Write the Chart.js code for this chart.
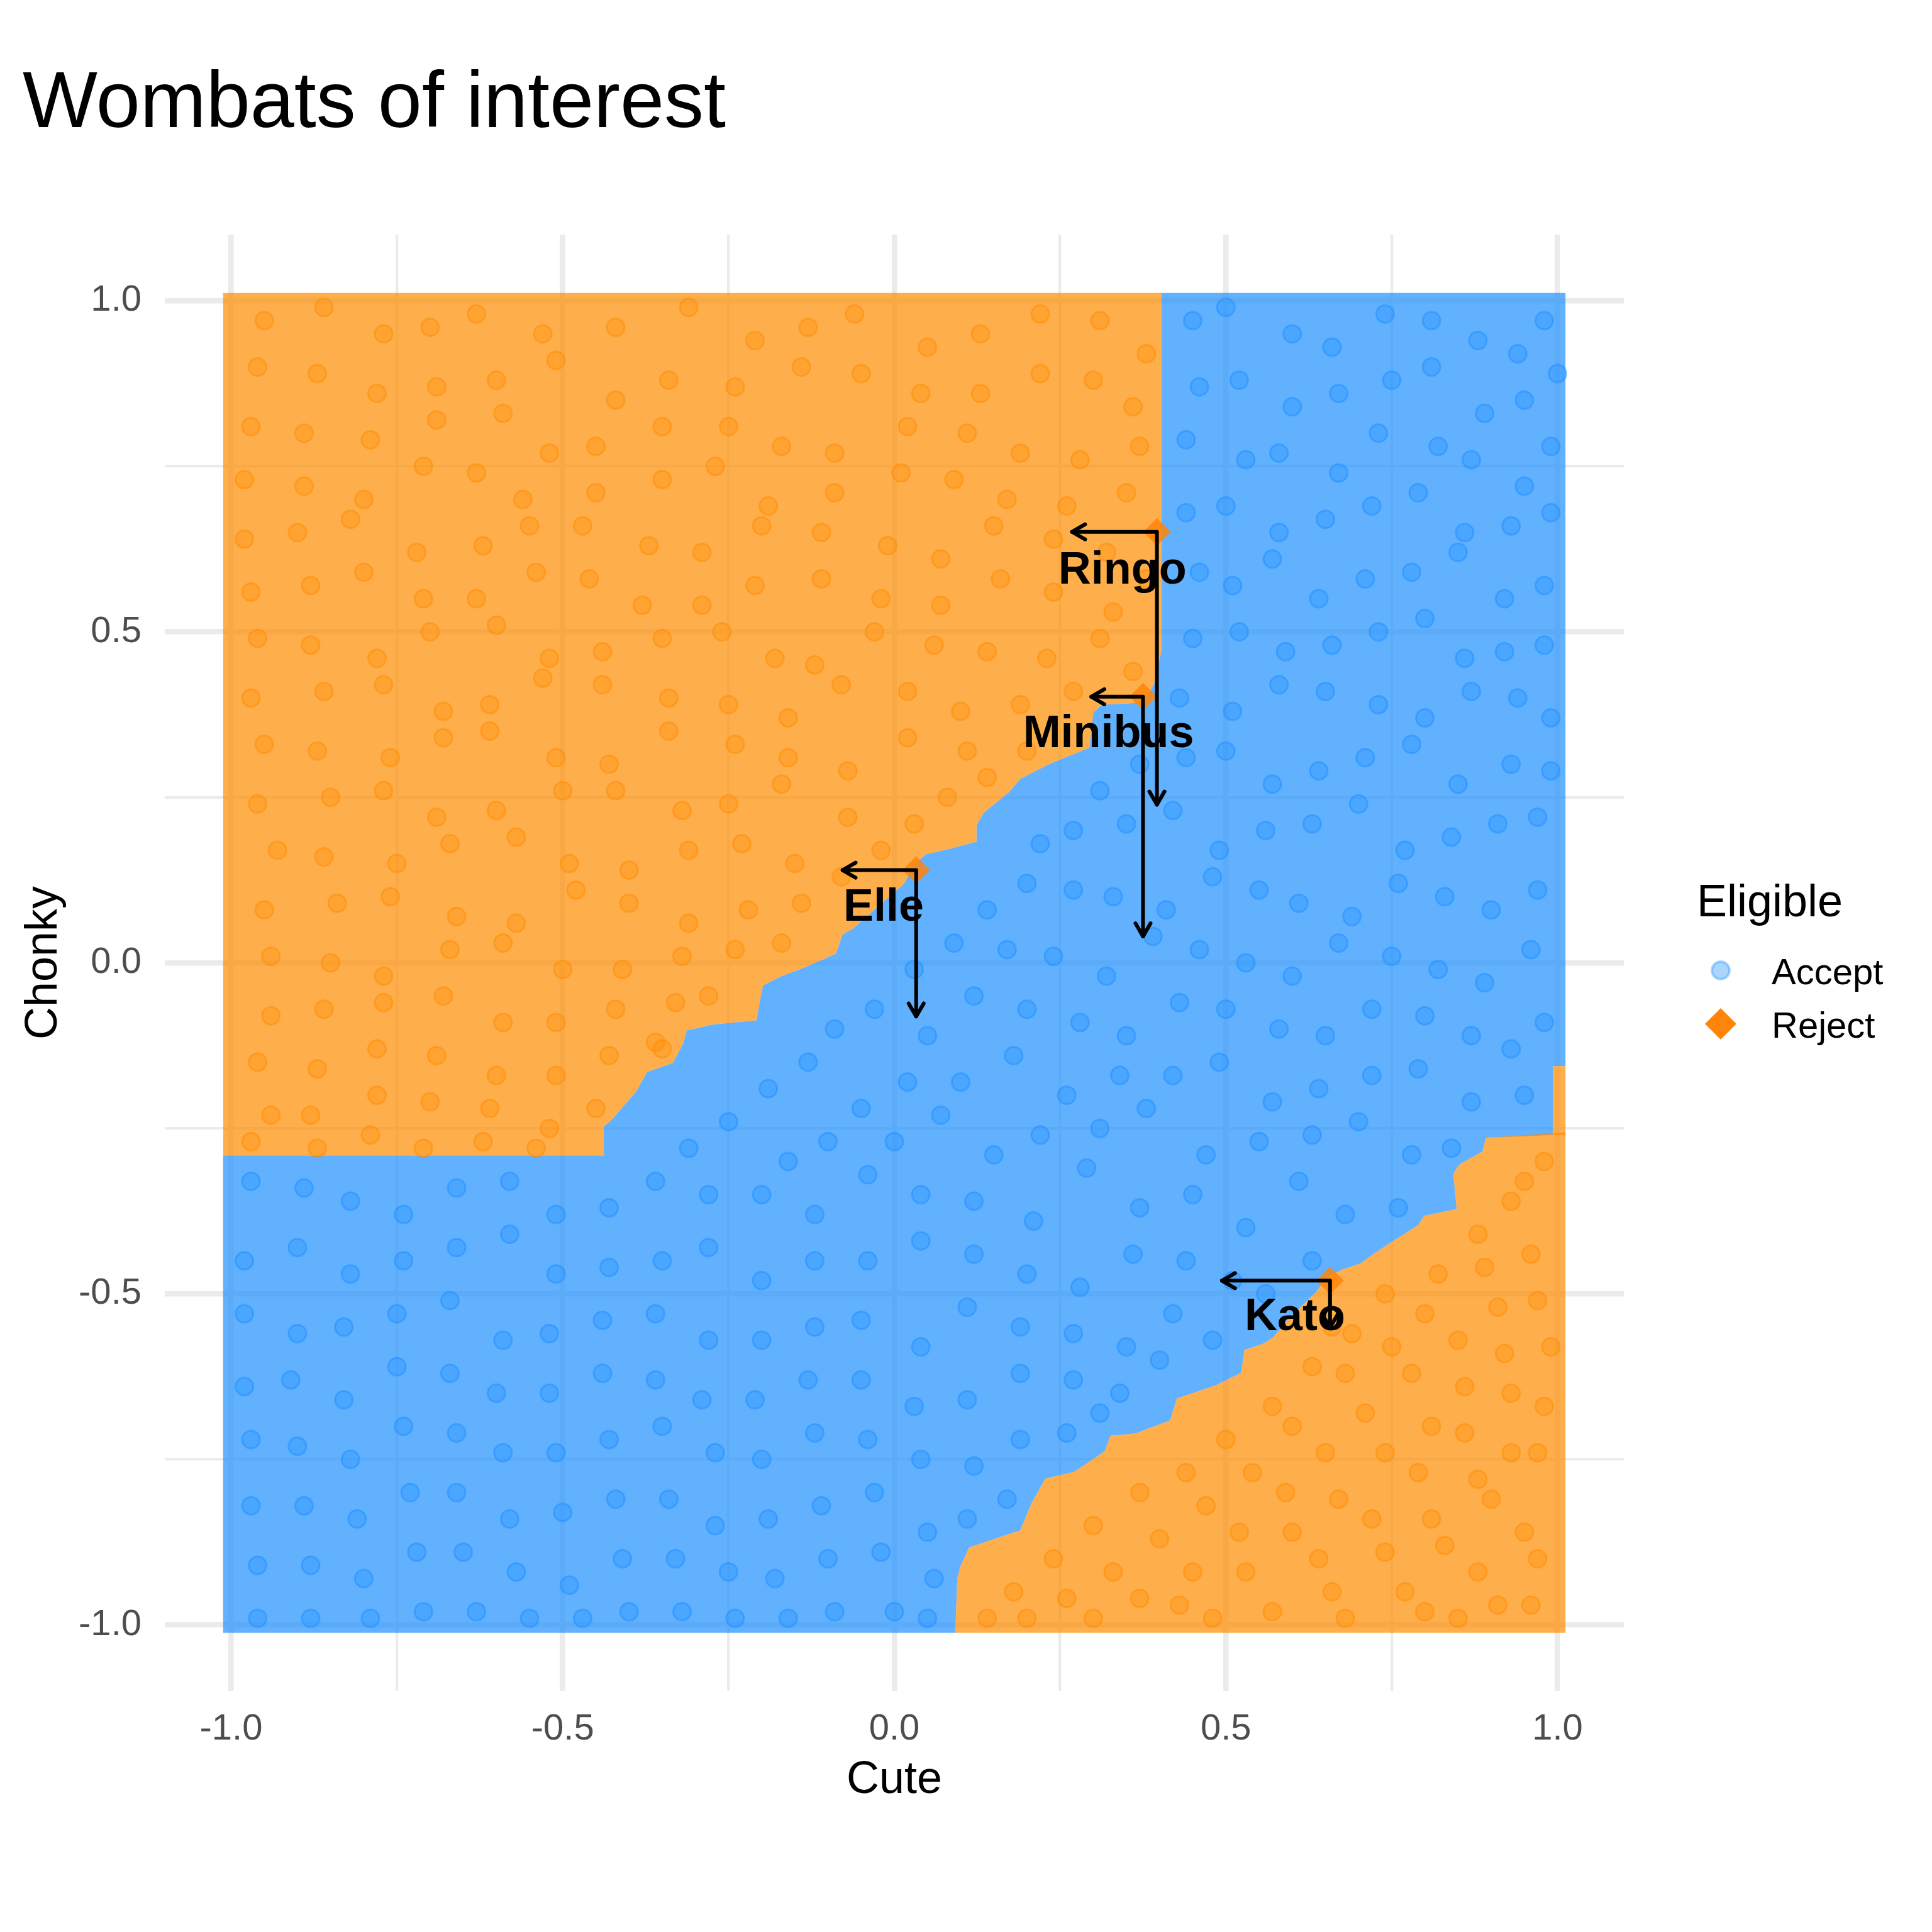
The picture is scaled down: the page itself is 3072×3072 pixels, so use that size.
<!DOCTYPE html>
<html>
<head>
<meta charset="utf-8">
<title>Wombats of interest</title>
<script src="https://cdn.jsdelivr.net/npm/chart.js@4.4.1/dist/chart.umd.min.js"></script>
<style>
  html, body { margin: 0; padding: 0; background: #fff; }
  canvas { display: block; }
</style>
</head>
<body>
<canvas id="wombats" width="3072" height="3072" style="width:3072px;height:3072px"></canvas>
<script>
const FONT = '"Liberation Sans", Arial, Helvetica, sans-serif';

// axis ticks
const majorTicks = [-1, -0.5, 0, 0.5, 1];
const majorLabels = ["-1.0", "-0.5", "0.0", "0.5", "1.0"];
const minorTicks = [-0.75, -0.25, 0.25, 0.75];

// predicted region (tile background), edges
const tileEdge = 1.012;
// staircase between the upper-left Reject zone and Accept, top to left
const upperEdge = [
  [0.403, 1.012], [0.403, 0.473], [0.392, 0.422], [0.375, 0.393],
  [0.313, 0.39], [0.3, 0.378], [0.294, 0.325], [0.233, 0.3], [0.19, 0.278],
  [0.173, 0.258], [0.135, 0.227], [0.124, 0.208], [0.124, 0.183], [0.086, 0.173],
  [0.048, 0.164], [0.031, 0.15], [0.015, 0.12], [-0.062, 0.052], [-0.078, 0.043],
  [-0.088, 0.014], [-0.11, 0.004], [-0.143, -0.01], [-0.17, -0.02], [-0.198, -0.034],
  [-0.203, -0.059], [-0.208, -0.087], [-0.274, -0.093], [-0.313, -0.102], [-0.318, -0.121],
  [-0.334, -0.151], [-0.373, -0.165], [-0.389, -0.194], [-0.427, -0.238], [-0.438, -0.247],
  [-0.438, -0.291], [-1.012, -0.291]
];
// staircase between Accept and the lower-right Reject zone, right to bottom
const lowerEdge = [
  [1.012, -0.256], [0.892, -0.264], [0.887, -0.285], [0.853, -0.304], [0.843, -0.318],
  [0.848, -0.372], [0.799, -0.382], [0.79, -0.396], [0.751, -0.421], [0.722, -0.44],
  [0.703, -0.454], [0.674, -0.464], [0.654, -0.474], [0.635, -0.498], [0.596, -0.536],
  [0.571, -0.566], [0.557, -0.575], [0.528, -0.585], [0.523, -0.619], [0.485, -0.638],
  [0.426, -0.658], [0.416, -0.691], [0.363, -0.711], [0.326, -0.714], [0.317, -0.738],
  [0.271, -0.769], [0.228, -0.779], [0.207, -0.816], [0.19, -0.857], [0.113, -0.883],
  [0.1, -0.911], [0.095, -0.93], [0.092, -1.012]
];
// thin Reject strip on the right edge
const rejectStrip = [[0.993, -0.156], [1.012, -0.156], [1.012, -0.26], [0.993, -0.26]];

// observed wombats (a sample of the dots)
const rejectPoints = [
  [-0.95,0.97],[-0.77,0.95],[-0.63,0.98],[-0.42,0.96],[-0.21,0.94],[-0.06,0.98],[0.13,0.95],[0.31,0.97],
  [-0.87,0.89],[-0.69,0.87],[-0.51,0.91],[-0.34,0.88],[-0.14,0.9],[0.04,0.86],[0.22,0.89],[0.36,0.84],
  [-0.97,0.81],[-0.79,0.79],[-0.59,0.83],[-0.45,0.78],[-0.25,0.81],[-0.09,0.77],[0.11,0.8],[0.28,0.76],
  [-0.89,0.72],[-0.71,0.75],[-0.56,0.7],[-0.35,0.73],[-0.19,0.69],[0.01,0.74],[0.17,0.7],[0.35,0.71],
  [-0.98,0.64],[-0.82,0.67],[-0.62,0.63],[-0.47,0.66],[-0.29,0.62],[-0.11,0.65],[0.07,0.61],[0.24,0.64],
  [-0.88,0.57],[-0.71,0.55],[-0.54,0.59],[-0.38,0.54],[-0.21,0.57],[-0.02,0.55],[0.16,0.58],[0.33,0.53],
  [-0.96,0.49],[-0.78,0.46],[-0.6,0.51],[-0.44,0.47],[-0.26,0.5],[-0.12,0.45],[0.06,0.48],[0.23,0.46],
  [-0.86,0.41],[-0.68,0.38],[-0.53,0.43],[-0.34,0.4],[-0.16,0.37],[0.02,0.41],[0.19,0.39],[0.36,0.44],
  [-0.95,0.33],[-0.76,0.31],[-0.61,0.35],[-0.43,0.3],[-0.24,0.33],[-0.07,0.29],[0.11,0.32],
  [-0.85,0.25],[-0.69,0.22],[-0.5,0.26],[-0.32,0.23],[-0.17,0.27],[0.03,0.21],[0.14,0.28],
  [-0.93,0.17],[-0.75,0.15],[-0.57,0.19],[-0.4,0.14],[-0.23,0.18],[-0.08,0.13],
  [-0.84,0.09],[-0.66,0.07],[-0.48,0.11],[-0.31,0.06],[-0.14,0.09],
  [-0.94,0.01],[-0.77,-0.02],[-0.59,0.03],[-0.41,-0.01],[-0.24,0.02],
  [-0.86,-0.07],[-0.68,-0.05],[-0.51,-0.09],[-0.33,-0.06],[-0.28,-0.05],
  [-0.96,-0.15],[-0.78,-0.13],[-0.6,-0.17],[-0.43,-0.14],[-0.36,-0.12],
  [-0.88,-0.23],[-0.7,-0.21],[-0.52,-0.25],[-0.97,-0.27],[-0.62,-0.27],[-0.79,-0.26],
  [-0.86,0.99],[-0.7,0.96],[-0.53,0.95],[-0.31,0.99],[-0.13,0.96],[0.05,0.93],[0.22,0.98],[0.38,0.92],
  [-0.96,0.9],[-0.78,0.86],[-0.6,0.88],[-0.42,0.85],[-0.24,0.87],[-0.05,0.89],[0.13,0.86],[0.3,0.88],
  [-0.89,0.8],[-0.69,0.82],[-0.52,0.77],[-0.35,0.81],[-0.17,0.78],[0.02,0.81],[0.19,0.77],[0.37,0.78],
  [-0.98,0.73],[-0.8,0.7],[-0.63,0.74],[-0.45,0.71],[-0.27,0.75],[-0.09,0.71],[0.09,0.73],[0.26,0.69],
  [-0.9,0.65],[-0.72,0.62],[-0.55,0.66],[-0.37,0.63],[-0.2,0.66],[-0.01,0.63],[0.15,0.66],[0.32,0.62],
  [-0.97,0.56],[-0.8,0.59],[-0.63,0.55],[-0.46,0.58],[-0.29,0.54],[-0.11,0.58],[0.07,0.54],[0.24,0.56],[0.38,0.58],
  [-0.88,0.48],[-0.7,0.5],[-0.52,0.46],[-0.35,0.49],[-0.18,0.46],[-0.03,0.5],[0.14,0.47],[0.31,0.49],
  [-0.97,0.4],[-0.77,0.42],[-0.61,0.39],[-0.44,0.42],[-0.25,0.39],[-0.08,0.42],[0.1,0.38],[0.27,0.41],
  [-0.87,0.32],[-0.68,0.34],[-0.51,0.31],[-0.34,0.35],[-0.16,0.31],[0.02,0.34],[0.2,0.32],
  [-0.96,0.24],[-0.77,0.26],[-0.6,0.23],[-0.42,0.26],[-0.25,0.24],[-0.07,0.22],[0.08,0.25],
  [-0.86,0.16],[-0.67,0.18],[-0.49,0.15],[-0.31,0.17],[-0.15,0.15],[-0.02,0.17],
  [-0.95,0.08],[-0.76,0.1],[-0.57,0.06],[-0.4,0.09],[-0.22,0.08],
  [-0.85,0],[-0.67,0.02],[-0.5,-0.01],[-0.32,0.01],[-0.17,0.03],
  [-0.94,-0.08],[-0.77,-0.06],[-0.59,-0.09],[-0.42,-0.07],
  [-0.87,-0.16],[-0.69,-0.14],[-0.51,-0.17],[-0.35,-0.13],
  [-0.94,-0.23],[-0.78,-0.2],[-0.61,-0.22],[-0.45,-0.22],[-0.71,-0.28],[-0.54,-0.28],[-0.87,-0.28],
  [0.98,-0.3],[0.93,-0.36],[0.96,-0.44],[0.88,-0.41],[0.82,-0.47],[0.91,-0.52],[0.99,-0.58],[0.74,-0.5],
  [0.85,-0.57],[0.69,-0.56],[0.78,-0.62],[0.93,-0.65],[0.63,-0.61],[0.71,-0.68],[0.86,-0.71],[0.97,-0.74],
  [0.57,-0.67],[0.65,-0.74],[0.79,-0.77],[0.5,-0.72],[0.9,-0.81],[0.59,-0.8],[0.72,-0.84],[0.44,-0.77],
  [0.83,-0.88],[0.97,-0.9],[0.37,-0.8],[0.52,-0.86],[0.64,-0.9],[0.3,-0.85],[0.45,-0.92],[0.77,-0.95],
  [0.91,-0.97],[0.24,-0.9],[0.37,-0.96],[0.57,-0.98],[0.18,-0.95],[0.68,-0.99],[0.14,-0.99],[0.3,-0.99],
  [0.48,-0.99],[0.85,-0.99],
  [0.95,-0.33],[0.89,-0.46],[0.97,-0.51],[0.8,-0.53],[0.92,-0.59],[0.75,-0.58],[0.86,-0.64],[0.98,-0.67],
  [0.68,-0.62],[0.81,-0.7],[0.93,-0.74],[0.6,-0.7],[0.74,-0.74],[0.88,-0.78],[0.54,-0.77],[0.67,-0.81],
  [0.81,-0.84],[0.95,-0.86],[0.47,-0.82],[0.6,-0.86],[0.74,-0.89],[0.88,-0.92],[0.4,-0.87],[0.53,-0.92],
  [0.66,-0.95],[0.8,-0.98],[0.96,-0.97],[0.33,-0.92],[0.43,-0.97],[0.26,-0.96],[0.2,-0.99],[0.66,-0.55]
];
const acceptPoints = [
  [0.45,0.97],[0.6,0.95],[0.74,0.98],[0.88,0.94],[0.98,0.97],
  [0.52,0.88],[0.67,0.86],[0.81,0.9],[0.95,0.85],
  [0.44,0.79],[0.58,0.77],[0.73,0.8],[0.87,0.76],[0.99,0.78],
  [0.5,0.69],[0.65,0.67],[0.79,0.71],[0.93,0.66],
  [0.46,0.59],[0.57,0.61],[0.71,0.58],[0.85,0.62],[0.98,0.57],
  [0.52,0.5],[0.66,0.48],[0.8,0.52],[0.92,0.47],
  [0.43,0.4],[0.58,0.42],[0.73,0.39],[0.87,0.41],[0.99,0.37],
  [0.37,0.3],[0.5,0.32],[0.64,0.29],[0.78,0.33],[0.93,0.3],
  [0.27,0.2],[0.42,0.23],[0.56,0.2],[0.7,0.24],[0.84,0.19],[0.97,0.22],
  [0.2,0.12],[0.33,0.1],[0.48,0.13],[0.61,0.09],[0.76,0.12],[0.9,0.08],
  [0.09,0.03],[0.24,0.01],[0.39,0.04],[0.53,0],[0.67,0.03],[0.82,-0.01],[0.96,0.02],
  [-0.03,-0.07],[0.12,-0.05],[0.28,-0.09],[0.43,-0.06],[0.58,-0.1],[0.72,-0.07],[0.87,-0.11],[0.98,-0.09],
  [-0.13,-0.15],[0.02,-0.18],[0.18,-0.14],[0.34,-0.17],[0.49,-0.15],[0.64,-0.19],[0.79,-0.16],[0.95,-0.2],
  [-0.25,-0.24],[-0.1,-0.27],[0.07,-0.23],[0.22,-0.26],[0.38,-0.22],[0.55,-0.27],[0.7,-0.24],[0.84,-0.28],
  [-0.36,-0.33],[-0.2,-0.35],[-0.04,-0.32],[0.12,-0.36],[0.29,-0.31],[0.45,-0.35],[0.61,-0.33],[0.76,-0.37],
  [-0.97,-0.33],[-0.82,-0.36],[-0.66,-0.34],[-0.51,-0.38],
  [-0.9,-0.43],[-0.74,-0.45],[-0.58,-0.41],[-0.43,-0.46],[-0.28,-0.43],[-0.12,-0.45],[0.04,-0.42],
  [0.2,-0.47],[0.36,-0.44],[0.51,-0.48],[0.63,-0.45],
  [-0.98,-0.53],[-0.83,-0.55],[-0.67,-0.51],[-0.52,-0.56],[-0.36,-0.53],[-0.2,-0.57],[-0.05,-0.54],
  [0.11,-0.52],[0.27,-0.56],[0.42,-0.53],
  [-0.91,-0.63],[-0.75,-0.61],[-0.6,-0.65],[-0.44,-0.62],[-0.29,-0.66],[-0.13,-0.63],[0.03,-0.67],
  [0.19,-0.62],[0.34,-0.65],
  [-0.97,-0.72],[-0.82,-0.75],[-0.66,-0.71],[-0.51,-0.74],[-0.35,-0.7],[-0.2,-0.75],[-0.04,-0.72],
  [0.12,-0.76],[0.26,-0.71],
  [-0.89,-0.82],[-0.73,-0.8],[-0.58,-0.84],[-0.42,-0.81],[-0.27,-0.85],[-0.11,-0.82],[0.05,-0.86],[0.17,-0.81],
  [-0.96,-0.91],[-0.8,-0.93],[-0.65,-0.89],[-0.49,-0.94],[-0.33,-0.9],[-0.18,-0.93],[-0.02,-0.89],
  [-0.88,-0.99],[-0.71,-0.98],[-0.55,-0.99],[-0.4,-0.98],[-0.24,-0.99],[-0.09,-0.98],[0.05,-0.99],
  [0.5,0.99],[0.66,0.93],[0.81,0.97],[0.94,0.92],
  [0.46,0.87],[0.6,0.84],[0.75,0.88],[0.89,0.83],[1,0.89],
  [0.53,0.76],[0.67,0.74],[0.82,0.78],[0.95,0.72],
  [0.44,0.68],[0.58,0.65],[0.72,0.69],[0.86,0.65],[0.99,0.68],
  [0.51,0.57],[0.64,0.55],[0.78,0.59],[0.92,0.55],
  [0.45,0.49],[0.59,0.47],[0.73,0.5],[0.86,0.46],[0.98,0.48],
  [0.51,0.38],[0.65,0.41],[0.8,0.37],[0.94,0.4],
  [0.31,0.26],[0.44,0.31],[0.57,0.27],[0.71,0.31],[0.85,0.27],[0.99,0.29],
  [0.22,0.18],[0.35,0.21],[0.49,0.17],[0.63,0.21],[0.77,0.17],[0.91,0.21],
  [0.14,0.08],[0.27,0.11],[0.41,0.08],[0.55,0.11],[0.69,0.07],[0.83,0.1],[0.97,0.11],
  [0.03,-0.01],[0.17,0.02],[0.32,-0.02],[0.46,0.02],[0.6,-0.02],[0.75,0.01],[0.89,-0.03],
  [-0.09,-0.1],[0.05,-0.11],[0.2,-0.07],[0.35,-0.11],[0.5,-0.07],[0.65,-0.11],[0.8,-0.08],[0.93,-0.13],
  [-0.19,-0.19],[-0.05,-0.22],[0.1,-0.18],[0.26,-0.2],[0.42,-0.17],[0.57,-0.21],[0.72,-0.17],[0.87,-0.21],
  [-0.31,-0.28],[-0.16,-0.3],[0,-0.27],[0.15,-0.29],[0.31,-0.25],[0.47,-0.29],[0.63,-0.26],[0.78,-0.29],
  [-0.89,-0.34],[-0.74,-0.38],[-0.58,-0.33],[-0.43,-0.37],[-0.28,-0.35],[-0.12,-0.38],[0.04,-0.35],
  [0.21,-0.39],[0.37,-0.37],[0.53,-0.4],[0.68,-0.38],
  [-0.98,-0.45],[-0.82,-0.47],[-0.66,-0.43],[-0.51,-0.47],[-0.35,-0.45],[-0.2,-0.48],[-0.04,-0.45],
  [0.12,-0.44],[0.28,-0.49],[0.44,-0.45],[0.56,-0.5],
  [-0.9,-0.56],[-0.75,-0.53],[-0.59,-0.57],[-0.44,-0.54],[-0.28,-0.57],[-0.12,-0.55],[0.04,-0.58],
  [0.19,-0.55],[0.35,-0.58],[0.48,-0.57],
  [-0.98,-0.64],[-0.83,-0.66],[-0.67,-0.62],[-0.52,-0.65],[-0.36,-0.63],[-0.21,-0.66],[-0.05,-0.63],
  [0.11,-0.66],[0.27,-0.63],[0.4,-0.6],
  [-0.9,-0.73],[-0.74,-0.7],[-0.59,-0.74],[-0.43,-0.72],[-0.27,-0.74],[-0.12,-0.71],[0.04,-0.75],
  [0.19,-0.72],[0.31,-0.68],
  [-0.97,-0.82],[-0.81,-0.84],[-0.66,-0.8],[-0.5,-0.83],[-0.34,-0.81],[-0.19,-0.84],[-0.03,-0.8],[0.11,-0.84],
  [-0.88,-0.91],[-0.72,-0.89],[-0.57,-0.92],[-0.41,-0.9],[-0.25,-0.92],[-0.1,-0.9],[0.06,-0.93],
  [-0.96,-0.99],[-0.79,-0.99],[-0.63,-0.98],[-0.47,-0.99],[-0.32,-0.98],[-0.16,-0.99],[0,-0.98]
];

// the named wombats and their callouts
const wombatNames = ["Ringo", "Minibus", "Elle", "Kato"];
const wombatX = [0.396, 0.375, 0.033, 0.657];
const wombatY = [0.651, 0.402, 0.14, -0.48];
const arrowLeftX = [0.268, 0.297, -0.078, 0.494];
const arrowDownY = [0.239, 0.04, -0.081, -0.551];
const labelX = [0.344, 0.323, -0.016, 0.604];
const labelY = [0.573, 0.326, 0.064, -0.555];

const BLUE = "30,144,255";
const ORANGE = "255,140,0";

// region outlines built from the edges
const rejectUpper = [[-tileEdge, tileEdge]].concat(upperEdge);
const rejectLower = lowerEdge.concat([[tileEdge, -tileEdge]]);
const acceptRegion = [[tileEdge, tileEdge], [tileEdge, -0.156], [0.993, -0.156], [0.993, -0.26]]
  .concat(lowerEdge.slice(1))
  .concat([[-tileEdge, -tileEdge]])
  .concat(upperEdge.slice().reverse());

function toXY(pairs) {
  return pairs.map(p => ({ x: p[0], y: p[1] }));
}

function regionDataset(pairs, color, order) {
  return {
    type: "line",
    data: toXY(pairs),
    fill: "shape",
    backgroundColor: color,
    borderWidth: 0,
    pointRadius: 0,
    order: order
  };
}

const allTicks = majorTicks.concat(minorTicks).sort((a, b) => a - b);

function axisOptions(fitFn, pad) {
  return {
    type: "linear",
    min: -1.1,
    max: 1.1,
    afterBuildTicks: s => { s.ticks = allTicks.map(v => ({ value: v })); },
    afterFit: fitFn,
    border: { display: false },
    grid: {
      color: "#EBEBEB",
      drawTicks: false,
      lineWidth: c => (c.tick && majorTicks.includes(c.tick.value)) ? 8.6 : 4.3
    },
    ticks: {
      autoSkip: false,
      maxRotation: 0,
      padding: pad,
      color: "#4D4D4D",
      font: { family: FONT, size: 58 },
      callback: v => {
        const i = majorTicks.indexOf(v);
        return i >= 0 ? majorLabels[i] : "";
      }
    }
  };
}

const decorPlugin = {
  id: "decor",
  beforeDraw(chart) {
    const ctx = chart.ctx;
    ctx.save();
    ctx.fillStyle = "#fff";
    ctx.fillRect(0, 0, chart.width, chart.height);
    ctx.restore();
  },
  afterDatasetsDraw(chart) {
    const ctx = chart.ctx;
    const sx = chart.scales.x, sy = chart.scales.y;
    ctx.save();
    ctx.strokeStyle = "#000";
    ctx.lineWidth = 6;
    ctx.lineCap = "round";
    ctx.lineJoin = "round";
    const head = (x, y, ang) => {
      const L = 24, a = Math.PI / 6;
      ctx.beginPath();
      ctx.moveTo(x + L * Math.cos(ang + Math.PI - a), y + L * Math.sin(ang + Math.PI - a));
      ctx.lineTo(x, y);
      ctx.lineTo(x + L * Math.cos(ang + Math.PI + a), y + L * Math.sin(ang + Math.PI + a));
      ctx.stroke();
    };
    for (let i = 0; i < wombatNames.length; i++) {
      const px = sx.getPixelForValue(wombatX[i]);
      const py = sy.getPixelForValue(wombatY[i]);
      const hx = sx.getPixelForValue(arrowLeftX[i]);
      const vy = sy.getPixelForValue(arrowDownY[i]);
      ctx.beginPath();
      ctx.moveTo(px, py);
      ctx.lineTo(hx, py);
      ctx.moveTo(px, py);
      ctx.lineTo(px, vy);
      ctx.stroke();
      head(hx, py, Math.PI);
      head(px, vy, Math.PI / 2);
    }
    ctx.fillStyle = "#000";
    ctx.font = "bold 72px " + FONT;
    ctx.textAlign = "center";
    ctx.textBaseline = "alphabetic";
    for (let i = 0; i < wombatNames.length; i++) {
      ctx.fillText(wombatNames[i], sx.getPixelForValue(labelX[i]), sy.getPixelForValue(labelY[i]));
    }
    ctx.restore();
  },
  afterDraw(chart) {
    const ctx = chart.ctx;
    const area = chart.chartArea;
    ctx.save();
    ctx.fillStyle = "#000";
    ctx.textBaseline = "alphabetic";

    // title
    ctx.textAlign = "left";
    ctx.font = "126px " + FONT;
    ctx.fillText("Wombats of interest", 36, 202);

    // axis titles
    ctx.font = "72px " + FONT;
    ctx.textAlign = "center";
    ctx.fillText("Cute", (area.left + area.right) / 2, 2851);
    ctx.save();
    ctx.translate(90, (area.top + area.bottom) / 2);
    ctx.rotate(-Math.PI / 2);
    ctx.fillText("Chonky", 0, 0);
    ctx.restore();

    // legend
    ctx.textAlign = "left";
    ctx.fillText("Eligible", 2698, 1457);
    ctx.font = "58px " + FONT;
    ctx.fillText("Accept", 2817, 1565);
    ctx.fillText("Reject", 2817, 1650);

    ctx.beginPath();
    ctx.arc(2736, 1543, 14, 0, Math.PI * 2);
    ctx.fillStyle = "rgba(" + BLUE + ",0.38)";
    ctx.fill();
    ctx.lineWidth = 4;
    ctx.strokeStyle = "rgba(" + BLUE + ",0.35)";
    ctx.stroke();

    ctx.beginPath();
    ctx.moveTo(2736, 1628 - 25);
    ctx.lineTo(2736 + 25, 1628);
    ctx.lineTo(2736, 1628 + 25);
    ctx.lineTo(2736 - 25, 1628);
    ctx.closePath();
    ctx.fillStyle = "rgb(255,133,10)";
    ctx.fill();
    ctx.restore();
  }
};

new Chart(document.getElementById("wombats"), {
  type: "scatter",
  data: {
    datasets: [
      regionDataset(acceptRegion, "rgba(" + BLUE + ",0.7)", 20),
      regionDataset(rejectUpper, "rgba(" + ORANGE + ",0.7)", 19),
      regionDataset(rejectLower, "rgba(" + ORANGE + ",0.7)", 18),
      regionDataset(rejectStrip, "rgba(" + ORANGE + ",0.7)", 17),
      {
        label: "Accept",
        data: toXY(acceptPoints),
        pointRadius: 14,
        pointBorderWidth: 3,
        backgroundColor: "rgba(" + BLUE + ",0.32)",
        borderColor: "rgba(" + BLUE + ",0.5)",
        order: 5
      },
      {
        label: "Reject",
        data: toXY(rejectPoints),
        pointRadius: 14,
        pointBorderWidth: 3,
        backgroundColor: "rgba(" + ORANGE + ",0.32)",
        borderColor: "rgba(" + ORANGE + ",0.5)",
        order: 4
      },
      {
        label: "Named",
        data: wombatX.map((x, i) => ({ x: x, y: wombatY[i] })),
        pointStyle: "rectRot",
        pointRadius: 22,
        pointBorderWidth: 0,
        backgroundColor: "rgba(255,133,10,0.85)",
        borderColor: "rgba(255,133,10,0)",
        order: 1
      }
    ]
  },
  options: {
    responsive: false,
    devicePixelRatio: 1,
    animation: false,
    events: [],
    layout: { padding: { left: 0, top: 373, right: 490, bottom: 0 } },
    plugins: { legend: { display: false }, title: { display: false }, tooltip: { enabled: false } },
    scales: {
      x: axisOptions(s => { s.height = 383; }, 26),
      y: axisOptions(s => { s.width = 262; }, 37)
    }
  },
  plugins: [decorPlugin]
});
</script>
</body>
</html>
